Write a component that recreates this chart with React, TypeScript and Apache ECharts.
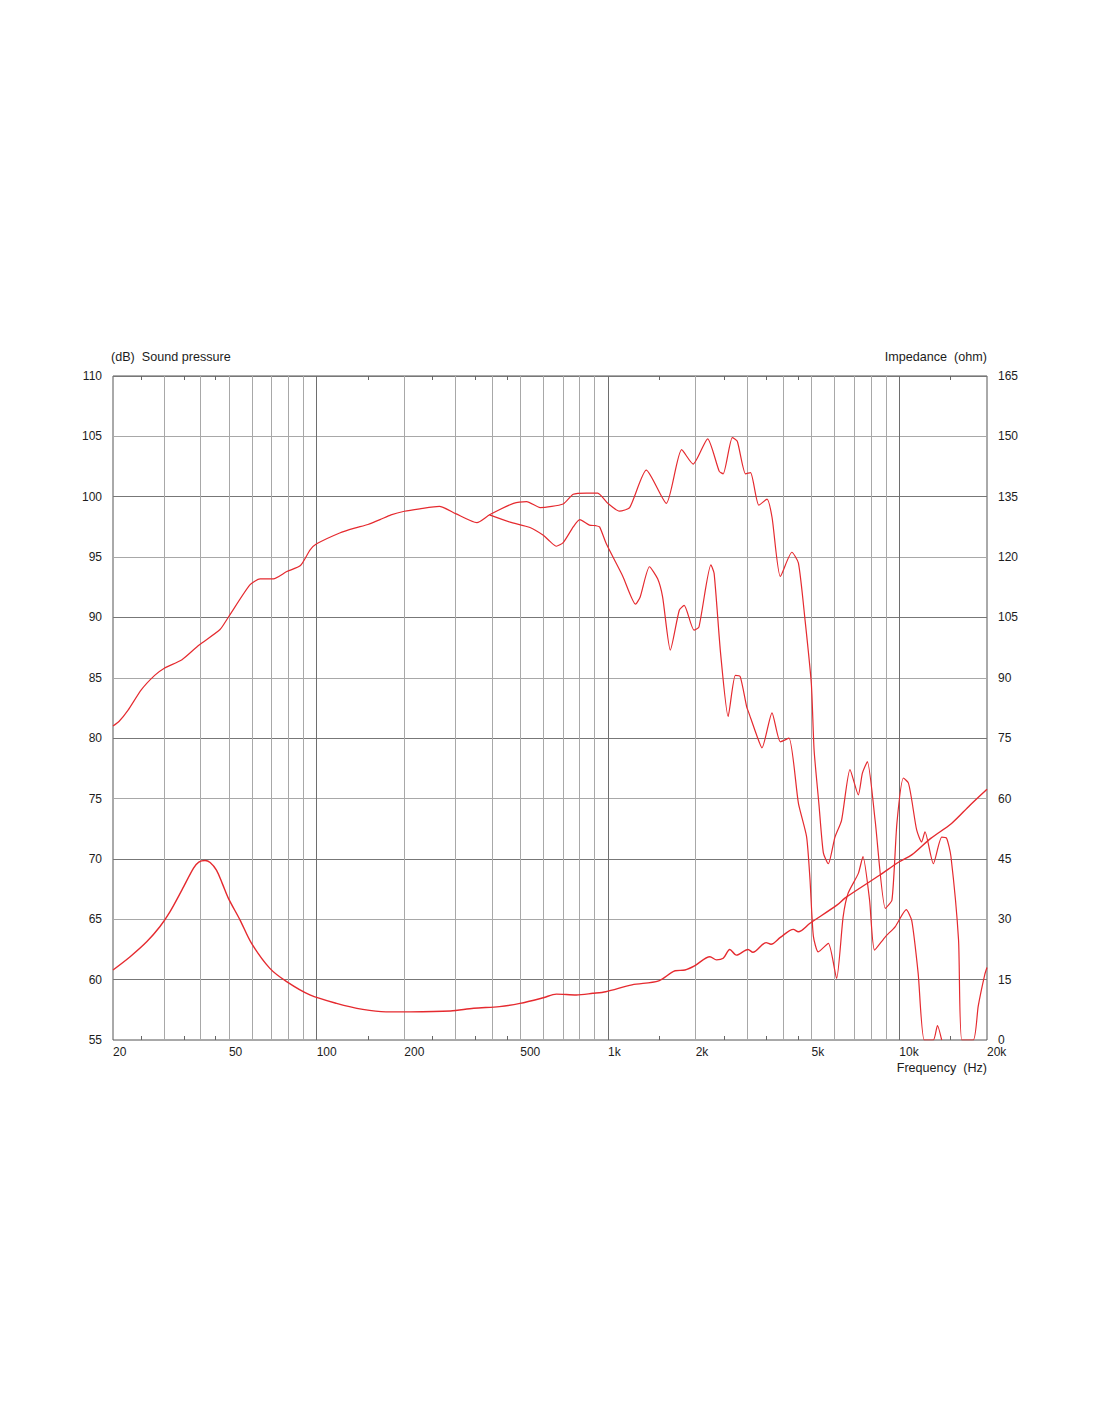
import React, { useEffect, useRef } from "react";
import * as echarts from "echarts";

// Frequency axis (Hz)
const FREQ_LABELS = [20, 50, 100, 200, 500, 1000, 2000, 5000, 10000, 20000];
const GRID_FREQS = [30, 40, 50, 60, 70, 80, 90, 200, 300, 400, 500, 600, 700, 800, 900, 2000, 3000, 4000, 5000, 6000, 7000, 8000, 9000];
const DECADE_FREQS = [100, 1000, 10000];
const MINOR_TICKS = [25, 35, 45, 150, 250, 350, 450, 1500, 2500, 3500, 4500, 15000];
const F_MIN = 20;
const F_MAX = 20000;

// Sound pressure (dB) – common low-frequency part [Hz, dB]
const SPL_COMMON: [number, number][] = [
  [20, 81.0], [21, 81.4], [22.5, 82.3], [25, 84.0], [27.8, 85.2], [30, 85.8], [34.5, 86.5],
  [39.4, 87.7], [46.6, 89.0], [50, 90.1], [59, 92.7], [64, 93.2], [71, 93.2], [79, 93.8],
  [88, 94.3], [95, 95.6], [100, 96.1], [120, 97.0], [135, 97.4], [150, 97.7], [165, 98.1],
  [180, 98.5], [200, 98.8], [226, 99.0], [264, 99.2], [300, 98.6], [355, 97.85], [392, 98.5],
];

// Upper (on-axis) branch above 392 Hz
const SPL_UPPER: [number, number][] = [
  [474, 99.45], [526, 99.6], [585, 99.1], [702, 99.4], [760, 100.2], [843, 100.3], [922, 100.3],
  [999, 99.45], [1096, 98.8], [1187, 99.1], [1354, 102.2], [1586, 99.45], [1790, 103.9],
  [1960, 102.7], [2198, 104.8], [2410, 102.1], [2486, 101.9], [2672, 104.9], [2779, 104.6],
  [2967, 101.9], [3086, 102.0], [3295, 99.3], [3516, 99.8], [3657, 98.3], [3906, 93.4],
  [4278, 95.4], [4506, 94.5], [4747, 89.8], [4990, 84.5], [5100, 79.0], [5300, 74.5],
  [5487, 70.5], [5707, 69.6], [6014, 71.8], [6336, 73.2], [6772, 77.4], [7235, 75.3],
  [7470, 77.1], [7770, 78.05], [8260, 73.2], [8955, 65.9], [9436, 66.6], [9816, 73.0],
  [10330, 76.7], [10740, 76.3], [11030, 74.9], [11470, 72.4], [11930, 71.4], [12250, 72.25],
  [13090, 69.6], [13980, 71.8], [14540, 71.7], [15040, 70.2], [15970, 63.3], [16400, 55],
  [17950, 55], [18660, 57.8], [19640, 60.4], [20000, 61.0],
];

// Lower (off-axis) branch from 392 Hz
const SPL_LOWER: [number, number][] = [
  [392, 98.5], [461, 97.9], [540, 97.45], [600, 96.8], [632, 96.3], [665, 95.9], [702, 96.2],
  [760, 97.5], [800, 98.1], [864, 97.65], [909, 97.6], [936, 97.5], [987, 96.1], [1125, 93.4],
  [1244, 91.1], [1290, 91.7], [1388, 94.2], [1481, 93.2], [1540, 91.7], [1637, 87.3],
  [1757, 90.6], [1826, 91.0], [1974, 88.95], [2052, 89.2], [2256, 94.35], [2314, 93.65],
  [2436, 87.0], [2585, 81.8], [2736, 85.2], [2844, 85.1], [2993, 82.6], [3045, 82.1],
  [3233, 80.3], [3378, 79.2], [3657, 82.1], [3906, 79.7], [4182, 80.0], [4506, 74.6],
  [4805, 71.85], [4937, 68.3], [5070, 63.6], [5270, 62.3], [5707, 63.0], [6092, 60.1],
  [6415, 65.2], [6672, 67.15], [7235, 68.8], [7505, 70.2], [7905, 66.6], [8225, 62.45],
  [8955, 63.55], [9690, 64.4], [10560, 65.8], [11030, 64.9], [11610, 60.5], [12180, 55],
  [13090, 55], [13520, 56.2], [13980, 55],
];

// Impedance (ohm)
const IMPEDANCE: [number, number][] = [
  [20, 17.4], [22.9, 20.7], [26.1, 24.4], [29, 28.2], [31.4, 31.9], [34.5, 37.3], [37.8, 42.7],
  [39.4, 44.2], [41.4, 44.6], [43.1, 44.1], [45.3, 42.2], [47.5, 38.8], [49.8, 35.2],
  [54.6, 29.8], [59.8, 24.0], [69.1, 17.8], [78.9, 14.5], [94.8, 11.2], [117, 9.1], [144, 7.6],
  [173, 7.0], [209, 7.0], [288, 7.2], [346, 7.9], [424, 8.3], [499, 9.1], [600, 10.5],
  [665, 11.4], [779, 11.2], [887, 11.6], [983, 12.0], [1209, 13.7], [1494, 14.7], [1700, 17.2],
  [1838, 17.4], [1989, 18.5], [2238, 20.7], [2359, 19.9], [2486, 20.3], [2619, 22.5],
  [2759, 21.1], [3024, 22.5], [3144, 21.8], [3489, 24.2], [3628, 23.8], [3907, 25.5],
  [4328, 27.5], [4500, 26.9], [4937, 29.0], [6105, 33.5], [6520, 35.3], [8580, 41.0],
  [10000, 44.3], [11030, 46.0], [12820, 50.1], [15110, 53.8], [17520, 58.4], [20000, 62.3],
];

const FONT = '"Liberation Sans", Arial, sans-serif';
const RED = "#e52a2f";
const TEXT = "#1c1c1c";

const lg = (pts: [number, number][]) => pts.map(([f, v]) => [Math.log10(f), v]);
const fmtFreq = (v: number) => {
  const f = Math.round(Math.pow(10, v));
  return f >= 1000 ? `${f / 1000}k` : `${f}`;
};

export default function App() {
  const ref = useRef<HTMLDivElement>(null);
  useEffect(() => {
    document.body.style.margin = "0";
    const chart = echarts.init(ref.current!, undefined, { renderer: "svg" });
    const xMin = Math.log10(F_MIN);
    const xMax = Math.log10(F_MAX);
    const hidden = {
      axisLine: { show: false },
      axisLabel: { show: false },
    };
    chart.setOption({
      animation: false,
      backgroundColor: "#ffffff",
      grid: {
        left: 113,
        right: 113,
        top: 376,
        bottom: 382,
        show: true,
        borderColor: "#555555",
        borderWidth: 1,
        backgroundColor: "transparent",
      },
      xAxis: [
        {
          type: "value",
          min: xMin,
          max: xMax,
          position: "bottom",
          axisLine: { show: false },
          axisTick: {
            show: true,
            inside: true,
            length: 4,
            customValues: MINOR_TICKS.map(Math.log10),
            lineStyle: { color: "#666666" },
          },
          axisLabel: {
            customValues: FREQ_LABELS.map(Math.log10),
            formatter: fmtFreq,
            align: "left",
            margin: 6,
            lineHeight: 12,
            color: TEXT,
            fontSize: 12,
            fontFamily: FONT,
          },
          splitLine: { show: false },
        },
        {
          type: "value",
          min: xMin,
          max: xMax,
          position: "top",
          ...hidden,
          axisTick: {
            show: true,
            inside: true,
            length: 4,
            customValues: MINOR_TICKS.map(Math.log10),
            lineStyle: { color: "#666666" },
          },
          splitLine: { show: false },
        },
        {
          type: "value",
          min: xMin,
          max: xMax,
          ...hidden,
          axisTick: { show: false, customValues: GRID_FREQS.map(Math.log10) },
          splitLine: { show: true, lineStyle: { color: "#a8a8a8", width: 1 } },
        },
        {
          type: "value",
          min: xMin,
          max: xMax,
          ...hidden,
          axisTick: { show: false, customValues: DECADE_FREQS.map(Math.log10) },
          splitLine: { show: true, lineStyle: { color: "#6e6e6e", width: 1 } },
        },
      ],
      yAxis: [
        {
          type: "value",
          min: 55,
          max: 110,
          interval: 5,
          position: "left",
          axisLine: { show: false },
          axisTick: { show: false },
          axisLabel: { margin: 11, color: TEXT, fontSize: 12, lineHeight: 11, fontFamily: FONT },
          splitLine: { show: true, lineStyle: { color: ["#a8a8a8", "#777777"], width: 1 } },
        },
        {
          type: "value",
          min: 0,
          max: 165,
          interval: 15,
          position: "right",
          axisLine: { show: false },
          axisTick: { show: false },
          axisLabel: { margin: 11, color: TEXT, fontSize: 12, lineHeight: 11, fontFamily: FONT },
          splitLine: { show: false },
        },
      ],
      graphic: [
        {
          type: "text",
          x: 111,
          y: 357,
          style: { text: "(dB)  Sound pressure", fill: TEXT, font: `12.6px ${FONT}`, align: "left", verticalAlign: "middle" },
        },
        {
          type: "text",
          x: 987,
          y: 357,
          style: { text: "Impedance  (ohm)", fill: TEXT, font: `12.6px ${FONT}`, align: "right", verticalAlign: "middle" },
        },
        {
          type: "text",
          x: 987,
          y: 1068,
          style: { text: "Frequency  (Hz)", fill: TEXT, font: `12.6px ${FONT}`, align: "right", verticalAlign: "middle" },
        },
      ],
      series: [
        {
          name: "SPL on-axis",
          type: "line",
          xAxisIndex: 0,
          yAxisIndex: 0,
          data: lg([...SPL_COMMON, ...SPL_UPPER]),
          showSymbol: false,
          symbol: "none",
          smooth: 0.2,
          lineStyle: { color: RED, width: 1.2 },
          z: 5,
        },
        {
          name: "SPL off-axis",
          type: "line",
          xAxisIndex: 0,
          yAxisIndex: 0,
          data: lg(SPL_LOWER),
          showSymbol: false,
          symbol: "none",
          smooth: 0.2,
          lineStyle: { color: RED, width: 1.2 },
          z: 5,
        },
        {
          name: "Impedance",
          type: "line",
          xAxisIndex: 0,
          yAxisIndex: 1,
          data: lg(IMPEDANCE),
          showSymbol: false,
          symbol: "none",
          smooth: 0.3,
          lineStyle: { color: RED, width: 1.4 },
          z: 5,
        },
      ],
    });
    return () => chart.dispose();
  }, []);
  return <div ref={ref} style={{ width: 1100, height: 1422 }} />;
}
